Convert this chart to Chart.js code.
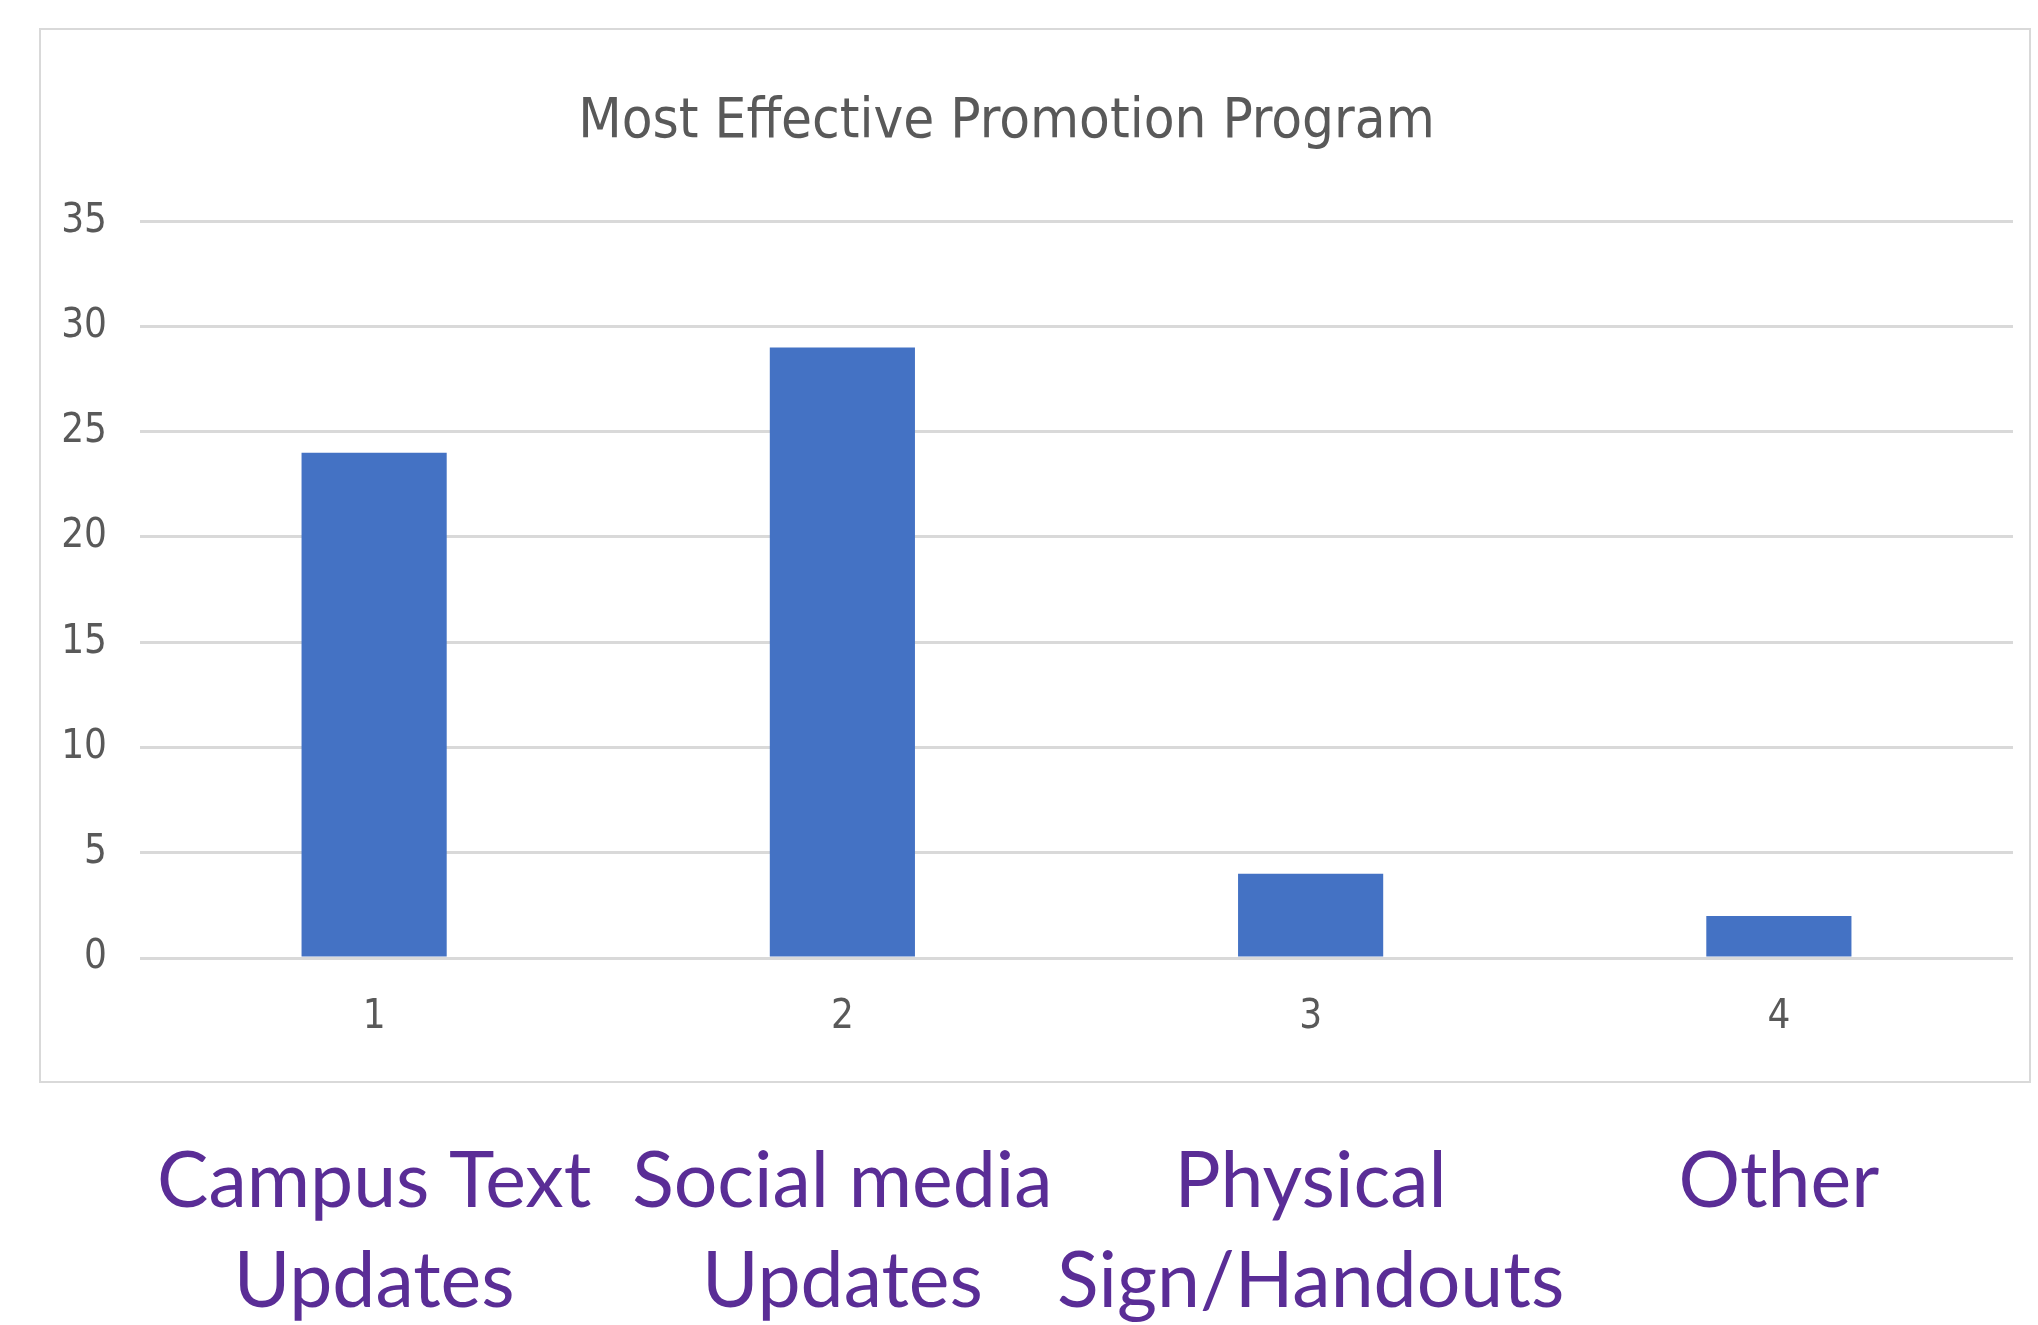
<!DOCTYPE html>
<html>
<head>
<meta charset="utf-8">
<title>Most Effective Promotion Program</title>
<script src="https://cdn.jsdelivr.net/npm/chart.js@4.4.1/dist/chart.umd.min.js"></script>
<style>
    html, body { margin: 0; padding: 0; background: #fff; }
    .wrap { position: relative; width: 2038px; height: 1325px; }
</style>
</head>
<body>
<div class="wrap"><canvas id="promoChart"></canvas></div>
<script>
// ── Data ─────────────────────────────────────
const tickNumbers  = ['1', '2', '3', '4'];
const categories   = [['Campus Text', 'Updates'], ['Social media', 'Updates'], ['Physical', 'Sign/Handouts'], ['Other']];
const responses    = [24, 29, 4, 2];
const yTicks       = [0, 5, 10, 15, 20, 25, 30, 35];

const narrow = "'Liberation Sans Narrow', 'DejaVu Sans Condensed', sans-serif";

// ── Frame round plot + number labels ─────────
const framePlugin = {
    id: 'frame',
    beforeDraw(chart) {
        const { ctx } = chart;
        const bottom = chart.scales.x.bottom;
        ctx.save();
        ctx.strokeStyle = '#d9d9d9';
        ctx.lineWidth = 2;
        ctx.strokeRect(40, 29, chart.width - 48, bottom - 29);
        ctx.restore();
    }
};

new Chart(document.getElementById('promoChart'), {
    type: 'bar',
    data: {
        labels: tickNumbers,
        datasets: [{
            label: 'Responses',
            data: responses,
            backgroundColor: '#4472c4',
            categoryPercentage: 1,
            barPercentage: 0.31,
        }]
    },
    options: {
        responsive: true,
        maintainAspectRatio: false,
        animation: false,
        layout: { padding: { top: 36, left: 0, right: 25, bottom: 0 } },
        plugins: {
            legend: { display: false },
            tooltip: { enabled: false },
            title: {
                display: true,
                text: 'Most Effective Promotion Program',
                color: '#595959',
                font: { family: narrow, size: 56, weight: 'normal' },
                padding: { top: 53, bottom: 65 }
            }
        },
        scales: {
            x: {
                grid: { display: false, drawTicks: false },
                border: { display: false },
                ticks: { color: '#595959', font: { family: narrow, size: 40 }, padding: 36 },
                afterFit: (s) => { s.height = 124; }
            },
            x2: {
                type: 'category',
                labels: categories,
                position: 'bottom',
                grid: { display: false, drawTicks: false },
                border: { display: false },
                ticks: {
                    color: '#5a2d96',
                    font: { family: 'Lato', size: 77, lineHeight: 1.3 },
                    padding: 50,
                    maxRotation: 0,
                    autoSkip: false
                },
                afterFit: (s) => { s.height = 243; }
            },
            y: {
                min: 0,
                max: 35,
                afterBuildTicks: (s) => { s.ticks = yTicks.map(v => ({ value: v })); },
                grid: { color: '#d9d9d9', lineWidth: 3, drawTicks: false },
                border: { display: false },
                ticks: { color: '#595959', font: { family: narrow, size: 40 }, padding: 33 },
                afterFit: (s) => { s.width = 140; }
            }
        }
    },
    plugins: [framePlugin]
});
</script>
</body>
</html>
